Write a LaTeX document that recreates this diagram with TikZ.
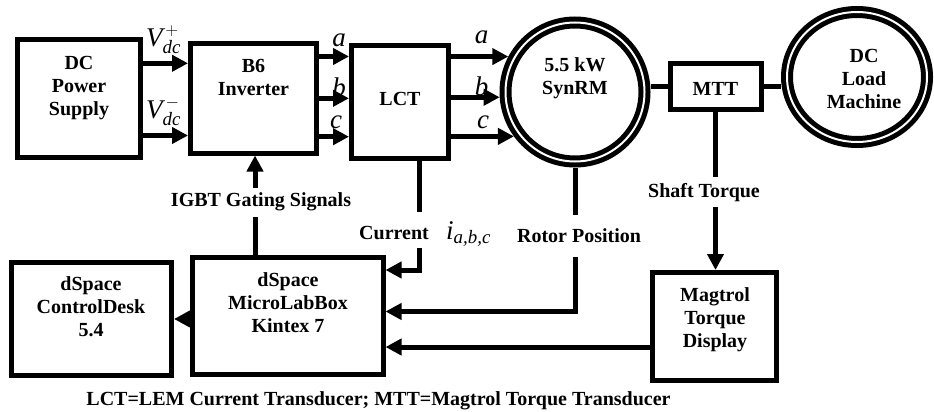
\documentclass[tikz,border=0pt]{standalone}
\usepackage{amsmath}
\usepackage{fontspec}
\setmainfont{Liberation Serif}
\usetikzlibrary{arrows.meta,shapes.geometric}
\begin{document}
\begin{tikzpicture}[x=1pt,y=-1pt,
  lbl/.style={font=\fontsize{20}{23}\selectfont\bfseries, inner sep=0pt, align=center},
  mathlbl/.style={font=\fontsize{27}{27}\selectfont, inner sep=0pt},
  box/.style 2 args={draw, line width=5pt, inner sep=0pt, minimum width=#1, minimum height=#2},
  machine/.style={draw, line width=5pt, double=white, double distance=2pt, inner sep=0pt, outer sep=6pt},
  ln/.style={line width=5pt},
  arr/.style={line width=5pt, -{Triangle[length=16pt,width=16pt]}}]
\useasboundingbox (0,0) rectangle (934,412);
% boxes
\node[box={123pt}{117.5pt}] (dc) at (79,98.75) {};
\node[box={126pt}{109.5pt}] (b6) at (253.5,98.25) {};
\node[box={97pt}{112pt}] (lct) at (400,102) {};
\node[box={91pt}{45pt}] (mtt) at (715.5,86.5) {};
\node[box={123.5pt}{107.5pt}] (mtag) at (714.25,326.25) {};
\node[box={190.5pt}{116.5pt}] (mlb) at (287.75,315.75) {};
\node[box={160.5pt}{113pt}] (cd) at (91.25,318.5) {};
\node[machine, circle, minimum size=139pt] (syn) at (575,92) {};
\node[machine, ellipse, minimum width=140pt, minimum height=130pt] (load) at (857,77) {};
% texts in boxes
\node[lbl] (dct) at (79,87.7) {DC\\Power\\Supply};
\node[lbl] (b6t) at (253.5,77.4) {B6\\Inverter};
\node[lbl] (lctt) at (400,98.5) {LCT};
\node[lbl] (synt) at (575,78.5) {5.5 kW\\SynRM};
\node[lbl] (mttt) at (715.5,88.5) {MTT};
\node[lbl] (loadt) at (864,79.4) {DC\\Load\\Machine};
\node[lbl] (mlbt) at (288,302.5) {dSpace\\MicroLabBox\\Kintex 7};
\node[lbl] (cdt) at (91,307) {dSpace\\ControlDesk\\5.4};
\node[lbl] (mtagt) at (715,319.9) {Magtrol\\Torque\\Display};
% labels
\node[lbl, anchor=base] (igbt) at (261,206) {IGBT Gating Signals};
\node[lbl, anchor=base] (cur) at (394,239) {Current};
\node[mathlbl, anchor=base west] (iabc) at (446,239) {$\textit{i}_{\textit{a,b,c}}$};
\node[lbl, anchor=base] (rot) at (579,242) {Rotor Position};
\node[lbl, anchor=base] (shaft) at (704,197) {Shaft Torque};
\node[lbl, anchor=base] (capt) at (378.5,405) {LCT=LEM Current Transducer; MTT=Magtrol Torque Transducer};
\node[mathlbl, anchor=base west] (vp) at (146,46.7) {$\textit{V}^{\,+}_{\textit{dc}}$};
\node[mathlbl, anchor=base west] (vm) at (146,118.3) {$\textit{V}^{\,-}_{\textit{dc}}$};
\node[mathlbl, anchor=base] (a1) at (339,47) {\textit{a}};
\node[mathlbl, anchor=base] (b1) at (339,96) {\textit{b}};
\node[mathlbl, anchor=base] (c1) at (336,128.5) {\textit{c}};
\node[mathlbl, anchor=base] (a2) at (481.7,43.3) {\textit{a}};
\node[mathlbl, anchor=base] (b2) at (481.7,95.5) {\textit{b}};
\node[mathlbl, anchor=base] (c2) at (483,128.3) {\textit{c}};
% connectors
\draw[arr] (dc.east |- 0,63.3) -- (b6.west |- 0,63.3);
\draw[arr] (dc.east |- 0,135.5) -- (b6.west |- 0,135.5);
\foreach \yy in {56.5,98.3,136.7} \draw[arr] (b6.east |- 0,\yy) -- (lct.west |- 0,\yy);
\foreach \ang in {152.1,184.8,216.3} \draw[arr] (lct.east |- syn.\ang) -- (syn.\ang);
\draw[ln] (syn.east |- mtt.west) -- (mtt.west);
\draw[ln] (mtt.east) -- (mtt.east -| load.west);
\coordinate (st1) at (715.5,177);
\coordinate (st2) at (715.5,206.7);
\draw[ln] (mtt.south) -- (st1);
\draw[arr] (st2) -- (st2 |- mtag.north);
\coordinate (rp1) at (575,215);
\coordinate (rp2) at (575,256.7);
\draw[ln] (syn.south) -- (rp1);
\draw[arr] (rp2) |- (mlb.east |- 0,311.5);
\coordinate (cu1) at (419,211.7);
\coordinate (cu2) at (419,248.3);
\draw[ln] (lct.south -| cu1) -- (cu1);
\draw[arr] (cu2) |- (mlb.east |- 0,270);
\coordinate (ig1) at (255,188);
\coordinate (ig2) at (255,217);
\draw[arr] (ig1) -- (b6.south -| ig1);
\draw[ln] (mlb.north -| ig2) -- (ig2);
\draw[arr] (mlb.west |- 0,319) -- (cd.east |- 0,319);
\draw[arr] (mtag.west |- 0,347) -- (mlb.east |- 0,347);
\end{tikzpicture}
\end{document}
